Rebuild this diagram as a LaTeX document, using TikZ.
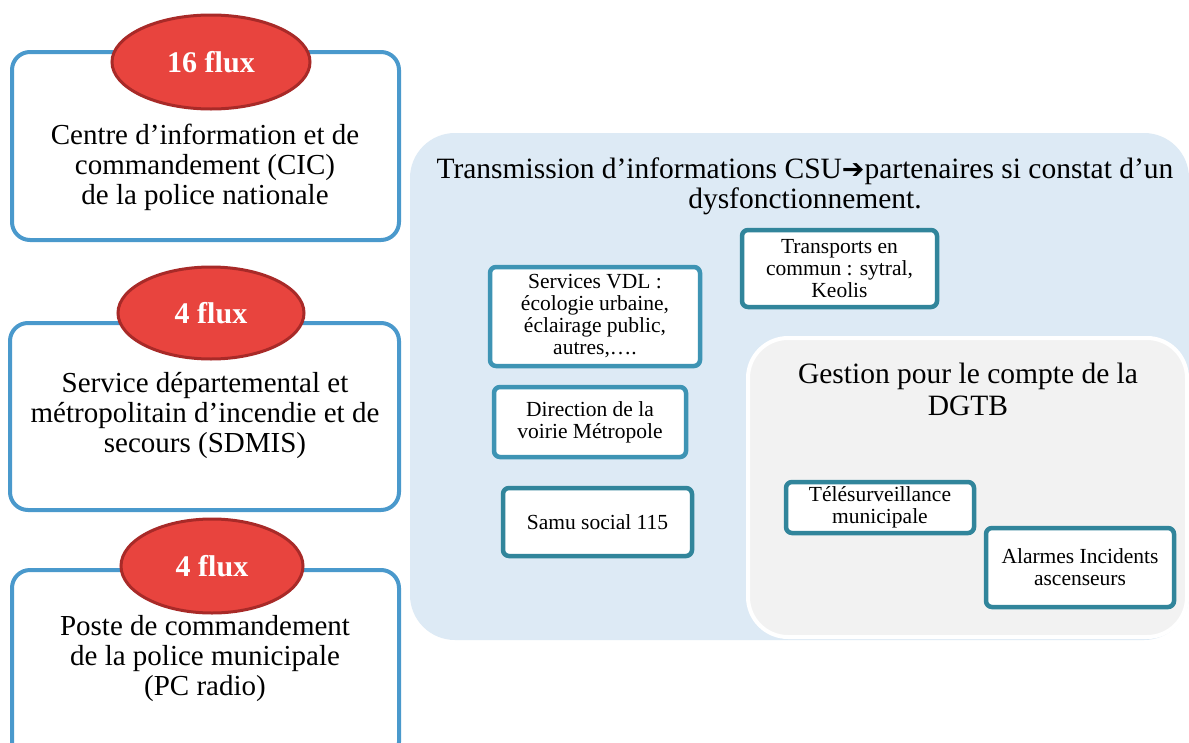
\documentclass[tikz,border=0pt]{standalone}
\usepackage{fontspec}
\setmainfont{Liberation Serif}
\newfontfamily\symfont{DejaVu Sans}
\usetikzlibrary{shapes.geometric}
\definecolor{leftblue}{RGB}{74,153,204}
\definecolor{regionblue}{RGB}{221,234,245}
\definecolor{regiongrey}{RGB}{242,242,242}
\definecolor{tealbox}{RGB}{49,133,155}
\definecolor{bluebox}{RGB}{62,148,180}
\definecolor{fluxred}{RGB}{232,68,62}
\definecolor{fluxdark}{RGB}{168,42,40}
\tikzset{
  leftbox/.style={draw=leftblue, line width=4pt, rounded corners=18pt, fill=white, inner sep=0pt},
  fluxell/.style={ellipse, draw=fluxdark, line width=3pt, fill=fluxred, inner sep=0pt, text=white, font=\fontsize{30}{30}\selectfont\bfseries},
  bigtext/.style={align=center, font=\fontsize{29}{30}\selectfont, inner sep=0pt},
  sbox/.style={draw=tealbox, line width=4.5pt, rounded corners=6pt, fill=white, align=center, font=\fontsize{21.5}{22}\selectfont, inner sep=0pt},
  sboxb/.style={sbox, draw=bluebox}
}
\begin{document}
\begin{tikzpicture}[x=1pt,y=-1pt]
\useasboundingbox (0,0) rectangle (1189,742);
\fill[white] (0,0) rectangle (1189,742);

% left column
\node[leftbox, minimum width=387pt, minimum height=188pt] (b1) at (205.5,146) {};
\node[leftbox, minimum width=389pt, minimum height=187pt] (b2) at (204.5,416.5) {};
\node[leftbox, minimum width=387pt, minimum height=190pt] (b3) at (205.5,665) {};

\node[fluxell, minimum width=198pt, minimum height=94pt] (e1) at (211,62) {16 flux};
\node[fluxell, minimum width=186pt, minimum height=92pt] (e2) at (211,313) {4 flux};
\node[fluxell, minimum width=182pt, minimum height=94pt] (e3) at (212,566) {4 flux};

\node[bigtext] (t1) at (205,167) {Centre d’information et de\\commandement (CIC)\\de la police nationale};
\node[bigtext] (t2) at (205,415) {Service départemental et\\métropolitain d’incendie et de\\secours (SDMIS)};
\node[bigtext] (t3) at (205,659) {Poste de commandement\\de la police municipale\\(PC radio)};

% right regions
\fill[regionblue, rounded corners=45pt] (410,133) rectangle (1189,640);
\node[bigtext, font=\fontsize{29.5}{30}\selectfont] (title) at (805,186) {Transmission d’informations CSU{\symfont\bfseries\fontsize{27}{30}\selectfont ➔}partenaires si constat d’un\\dysfonctionnement.};

\draw[white, line width=4pt, fill=regiongrey, rounded corners=40pt] (748,338) rectangle (1187,637);
\node[bigtext, font=\fontsize{29.5}{32}\selectfont] (gtitle) at (968,389) {Gestion pour le compte de la\\DGTB};

% small boxes
\node[sbox, minimum width=195pt, minimum height=77pt] (transp) at (839.5,268.5) {Transports en\\commun : sytral,\\Keolis};
\node[sboxb, minimum width=210pt, minimum height=99pt] (vdl) at (595,316.5) {Services VDL :\\écologie urbaine,\\éclairage public,\\autres,….};
\node[sboxb, minimum width=192pt, minimum height=70pt] (voirie) at (590,422) {Direction de la\\voirie Métropole};
\node[sbox, minimum width=189pt, minimum height=68pt] (samu) at (597.5,522) {Samu social 115};
\node[sbox, minimum width=188pt, minimum height=51pt] (tele) at (880,507.5) {Télésurveillance\\municipale};
\node[sbox, minimum width=188pt, minimum height=79pt] (alarm) at (1080,567.5) {Alarmes Incidents\\ascenseurs};
\end{tikzpicture}
\end{document}
